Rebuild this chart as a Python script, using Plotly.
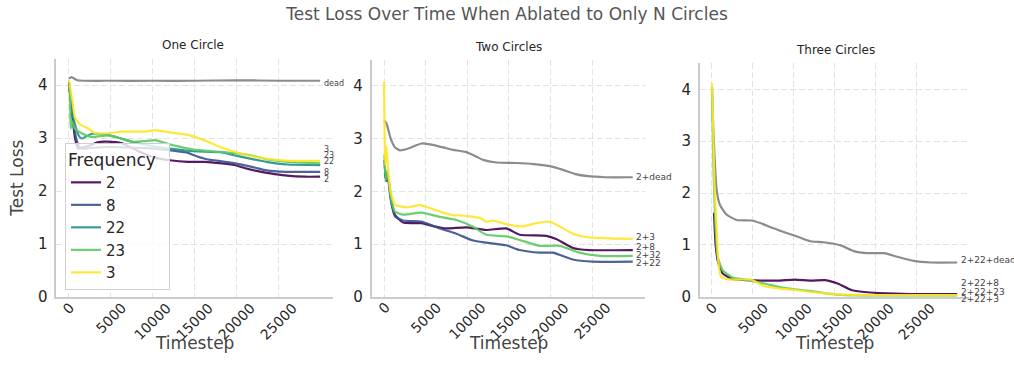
import plotly.graph_objects as go

# ---------------- DATA ----------------
# One Circle
p1_dead_t = [0, 300, 1000, 5000, 10000, 15000, 20000, 25000, 29900]
p1_dead_v = [4.12, 4.15, 4.09, 4.08, 4.08, 4.08, 4.09, 4.08, 4.08]

p1_f2_t = [0, 300, 700, 1100, 1600, 2500, 3400, 4500, 6300, 8400, 10200, 12000, 14200, 16200, 18200, 19700, 21000, 22900, 24500, 26000, 28000, 29900]
p1_f2_v = [4.05, 3.6, 3.02, 2.8, 2.82, 2.86, 2.92, 2.93, 2.9, 2.74, 2.63, 2.58, 2.55, 2.55, 2.52, 2.49, 2.43, 2.36, 2.32, 2.29, 2.27, 2.27]

p1_f8_t = [0, 250, 480, 910, 1300, 2000, 3000, 5000, 7500, 10200, 12400, 14200, 14800, 16400, 18200, 19500, 21900, 23500, 24700, 26500, 29900]
p1_f8_v = [4.0, 3.7, 3.34, 2.96, 2.82, 2.8, 2.82, 2.83, 2.82, 2.8, 2.76, 2.72, 2.68, 2.6, 2.56, 2.53, 2.45, 2.39, 2.37, 2.36, 2.36]

p1_f22_t = [0, 150, 400, 1100, 1500, 2700, 4300, 6000, 7500, 10200, 12500, 14800, 18200, 19500, 21000, 23500, 26000, 29900]
p1_f22_v = [4.0, 3.8, 3.46, 3.06, 2.99, 3.08, 3.07, 3.0, 2.93, 2.84, 2.79, 2.75, 2.73, 2.68, 2.63, 2.55, 2.5, 2.49]

p1_f23_t = [0, 100, 200, 350, 700, 1500, 2700, 4700, 6000, 7500, 9000, 10200, 12200, 14900, 17000, 19500, 21500, 23500, 26000, 29900]
p1_f23_v = [4.0, 3.9, 3.18, 3.32, 3.18, 3.09, 3.02, 3.05, 3.0, 2.93, 2.94, 2.96, 2.87, 2.78, 2.75, 2.72, 2.68, 2.6, 2.55, 2.52]

p1_f3_t = [0, 400, 700, 1300, 2300, 3100, 4700, 6300, 9100, 10200, 12200, 14200, 16200, 18200, 20600, 23000, 26200, 29900]
p1_f3_v = [4.09, 3.71, 3.39, 3.26, 3.18, 3.09, 3.09, 3.12, 3.12, 3.15, 3.10, 3.06, 2.95, 2.82, 2.70, 2.62, 2.57, 2.57]

# Two Circles
p2_dead_t = [0, 300, 800, 1300, 1900, 3000, 4500, 6000, 7500, 8300, 9800, 11000, 11900, 13500, 15900, 18000, 19900, 21500, 23000, 24500, 26500, 29900]
p2_dead_v = [3.35, 3.29, 3.0, 2.84, 2.78, 2.82, 2.91, 2.88, 2.82, 2.79, 2.75, 2.67, 2.60, 2.55, 2.54, 2.52, 2.48, 2.41, 2.33, 2.29, 2.27, 2.27]

p2_f3_t = [0, 150, 300, 500, 800, 1320, 2700, 4300, 6700, 8300, 9100, 11500, 12300, 13100, 14700, 16700, 18300, 19900, 21100, 22700, 24700, 29900]
p2_f3_v = [4.08, 2.5, 2.85, 2.4, 2.0, 1.75, 1.70, 1.74, 1.62, 1.55, 1.55, 1.50, 1.43, 1.45, 1.38, 1.34, 1.40, 1.43, 1.34, 1.20, 1.13, 1.10]

p2_f8_t = [100, 300, 500, 900, 1300, 2300, 4500, 6000, 7500, 9900, 12300, 14700, 16300, 19500, 20700, 22700, 24700, 29900]
p2_f8_v = [2.35, 2.2, 2.25, 1.8, 1.56, 1.41, 1.40, 1.34, 1.30, 1.32, 1.27, 1.30, 1.18, 1.16, 1.10, 0.93, 0.89, 0.89]

p2_f32_t = [50, 200, 400, 800, 1300, 2300, 4500, 6700, 8700, 10700, 12300, 14700, 16300, 18700, 21100, 23500, 25900, 29900]
p2_f32_v = [2.7, 2.2, 2.4, 1.9, 1.62, 1.56, 1.60, 1.52, 1.46, 1.33, 1.18, 1.15, 1.08, 0.97, 0.97, 0.84, 0.78, 0.78]

p2_f22_t = [50, 200, 400, 800, 1300, 2300, 4500, 6700, 8700, 10700, 12300, 14700, 16300, 18700, 20300, 22700, 25100, 29900]
p2_f22_v = [2.6, 2.25, 2.35, 1.85, 1.53, 1.45, 1.43, 1.30, 1.20, 1.07, 1.03, 0.98, 0.89, 0.84, 0.84, 0.71, 0.67, 0.67]

# Three Circles
p3_dead_t = [0, 150, 300, 570, 980, 1800, 3000, 4800, 5900, 7500, 9100, 10400, 12000, 13600, 15700, 17300, 19000, 21000, 22600, 24600, 26700, 29900]
p3_dead_v = [4.05, 3.3, 2.75, 2.06, 1.77, 1.58, 1.48, 1.47, 1.42, 1.32, 1.23, 1.16, 1.07, 1.05, 0.99, 0.88, 0.84, 0.84, 0.77, 0.69, 0.66, 0.66]

p3_f8_t = [250, 450, 700, 1300, 2500, 4100, 6100, 8100, 10100, 12100, 13800, 15400, 17000, 18600, 20300, 24300, 29900]
p3_f8_v = [1.62, 1.0, 0.70, 0.45, 0.34, 0.32, 0.31, 0.31, 0.33, 0.31, 0.32, 0.25, 0.13, 0.09, 0.07, 0.05, 0.05]

p3_f23_t = [0, 200, 400, 700, 1300, 2500, 4100, 5300, 6500, 8100, 10100, 12100, 14200, 16200, 20300, 29900]
p3_f23_v = [4.0, 2.4, 1.45, 0.77, 0.51, 0.37, 0.33, 0.29, 0.25, 0.19, 0.14, 0.11, 0.06, 0.03, 0.02, 0.02]

p3_f3_t = [0, 100, 300, 570, 800, 1100, 1800, 3400, 4800, 6100, 8100, 10100, 12100, 14200, 16200, 20000, 29900]
p3_f3_v = [4.12, 3.6, 2.2, 1.29, 0.64, 0.39, 0.34, 0.33, 0.33, 0.22, 0.16, 0.13, 0.09, 0.06, 0.04, 0.03, 0.03]

panel_titles = ["One Circle", "Two Circles", "Three Circles"]
x_tickvals = [0, 5000, 10000, 15000, 20000, 25000]
x_ticktext = ["0", "5000", "10000", "15000", "20000", "25000"]
y_tickvals = [0, 1, 2, 3, 4]
y_ticktext = ["0", "1", "2", "3", "4"]

# end labels: (text, y position)
p1_labels = [("dead", 4.02), ("3", 2.78), ("23", 2.67), ("22", 2.56), ("8", 2.35), ("2", 2.21)]
p2_labels = [("2+dead", 2.27), ("2+3", 1.13), ("2+8", 0.95), ("2+32", 0.80), ("2+22", 0.64)]
p3_labels = [("2+22+dead", 0.71), ("2+22+8", 0.26), ("2+22+23", 0.10), ("2+22+3", 0.0)]

# ---------------- STYLE ----------------
C_PURPLE = "#440154"
C_BLUE = "#3b528b"
C_TEAL = "#21918c"
C_GREEN = "#5ec962"
C_YELLOW = "#fde725"
C_GRAY = "#808080"
TXT = "#262626"
FONT = "DejaVu Sans"
W, H = 1014, 379

fig = go.Figure()

def add_line(t, v, color, axis_idx, name=None, legend=False):
    sfx = "" if axis_idx == 1 else str(axis_idx)
    fig.add_trace(go.Scatter(
        x=t, y=v, mode="lines", name=name if name else "",
        line=dict(color=color, width=2.2, shape="spline", smoothing=0.5),
        opacity=0.9, showlegend=legend,
        xaxis="x" + sfx, yaxis="y" + sfx, hoverinfo="skip"))

# panel 1
add_line(p1_dead_t, p1_dead_v, C_GRAY, 1)
add_line(p1_f2_t, p1_f2_v, C_PURPLE, 1, "2", True)
add_line(p1_f8_t, p1_f8_v, C_BLUE, 1, "8", True)
add_line(p1_f22_t, p1_f22_v, C_TEAL, 1, "22", True)
add_line(p1_f23_t, p1_f23_v, C_GREEN, 1, "23", True)
add_line(p1_f3_t, p1_f3_v, C_YELLOW, 1, "3", True)
# panel 2
add_line(p2_dead_t, p2_dead_v, C_GRAY, 2)
add_line(p2_f8_t, p2_f8_v, C_PURPLE, 2)
add_line(p2_f22_t, p2_f22_v, C_BLUE, 2)
add_line(p2_f32_t, p2_f32_v, C_GREEN, 2)
add_line(p2_f3_t, p2_f3_v, C_YELLOW, 2)
# panel 3
add_line(p3_dead_t, p3_dead_v, C_GRAY, 3)
add_line(p3_f8_t, p3_f8_v, C_PURPLE, 3)
add_line(p3_f23_t, p3_f23_v, C_GREEN, 3)
add_line(p3_f3_t, p3_f3_v, C_YELLOW, 3)

# pixel geometry
xr = [-1495, 31395]
x_domains_px = [(56.4, 332.7), (371.6, 645.2), (699.7, 969.4)]
y_domains_px = [(58.5, 297.0), (59.6, 297.0), (63.4, 296.7)]
yr = [0, 4.5]

axis_common_x = dict(
    range=xr, tickvals=x_tickvals, showticklabels=False,
    showgrid=True, gridcolor="#e3e3e3", gridwidth=1, griddash="6px,3px",
    showline=True, linecolor="#cccccc", linewidth=1.5, ticks="", zeroline=False,
)
axis_common_y = dict(
    range=yr, tickvals=y_tickvals, ticktext=y_ticktext,
    tickfont=dict(family=FONT, size=15, color=TXT),
    showgrid=True, gridcolor="#e3e3e3", gridwidth=1, griddash="6px,3px",
    showline=True, linecolor="#cccccc", linewidth=1.5, ticks="", zeroline=False,
    ticklabelstandoff=4,
)

layout_axes = {}
for i in range(3):
    sfx = "" if i == 0 else str(i + 1)
    x0, x1 = x_domains_px[i]
    ytop, ybot = y_domains_px[i]
    xa = dict(axis_common_x)
    xa.update(domain=[x0 / W, x1 / W], anchor="y" + sfx)
    ya = dict(axis_common_y)
    ya.update(domain=[1 - ybot / H, 1 - ytop / H], anchor="x" + sfx)
    if i == 0:
        ya["title"] = dict(text="Test Loss", font=dict(family=FONT, size=17, color="#444444"), standoff=10)
    layout_axes["xaxis" + sfx] = xa
    layout_axes["yaxis" + sfx] = ya

annotations = []
title_pos = [(193, 45), (508, 47), (835, 50)]
for (px, py), txt in zip(title_pos, panel_titles):
    annotations.append(dict(text=txt, x=px / W, y=1 - py / H, xref="paper", yref="paper",
                            xanchor="center", yanchor="middle", showarrow=False,
                            font=dict(family=FONT, size=12, color=TXT)))

# rotated x tick labels (centered under each tick, like the reference) + axis titles
for i in range(3):
    sfx = "" if i == 0 else str(i + 1)
    for tv, tt in zip(x_tickvals, x_ticktext):
        annotations.append(dict(text=tt, x=tv, y=1 - 298 / H, xref="x" + sfx, yref="paper",
                                xanchor="center", yanchor="top", textangle=-45, showarrow=False,
                                borderpad=0, font=dict(family=FONT, size=14, color=TXT)))
    x0, x1 = x_domains_px[i]
    annotations.append(dict(text="Timestep", x=(x0 + x1) / 2 / W, y=1 - 343 / H,
                            xref="paper", yref="paper", xanchor="center", yanchor="middle",
                            showarrow=False, font=dict(family=FONT, size=17, color="#444444")))

for idx, (labels, fs) in enumerate([(p1_labels, 8), (p2_labels, 9), (p3_labels, 9)]):
    sfx = "" if idx == 0 else str(idx + 1)
    for txt, yv in labels:
        annotations.append(dict(text=txt, x=30100, y=yv, xref="x" + sfx, yref="y" + sfx,
                                xanchor="left", yanchor="middle", showarrow=False,
                                yshift=-2 if yv == 0 else 0,
                                font=dict(family=FONT, size=fs, color="#444444")))

fig.update_layout(
    width=W, height=H,
    margin=dict(l=0, r=0, t=0, b=0, autoexpand=False),
    paper_bgcolor="white", plot_bgcolor="white",
    title=dict(text="Test Loss Over Time When Ablated to Only N Circles",
               x=0.5, xanchor="center", y=1 - 14 / H, yanchor="middle",
               font=dict(family=FONT, size=17, color="#555555")),
    legend=dict(x=65 / W, y=1 - 143 / H, xanchor="left", yanchor="top",
                title=dict(text="Frequency\u00a0\u00a0", font=dict(family=FONT, size=17, color=TXT)),
                font=dict(family=FONT, size=15, color=TXT),
                bgcolor="rgba(255,255,255,0.8)", bordercolor="#d0d0d0", borderwidth=1,
                itemwidth=30, tracegroupgap=0),
    annotations=annotations,
    **layout_axes,
)

fig.write_html("out.html", config={"displayModeBar": False})
